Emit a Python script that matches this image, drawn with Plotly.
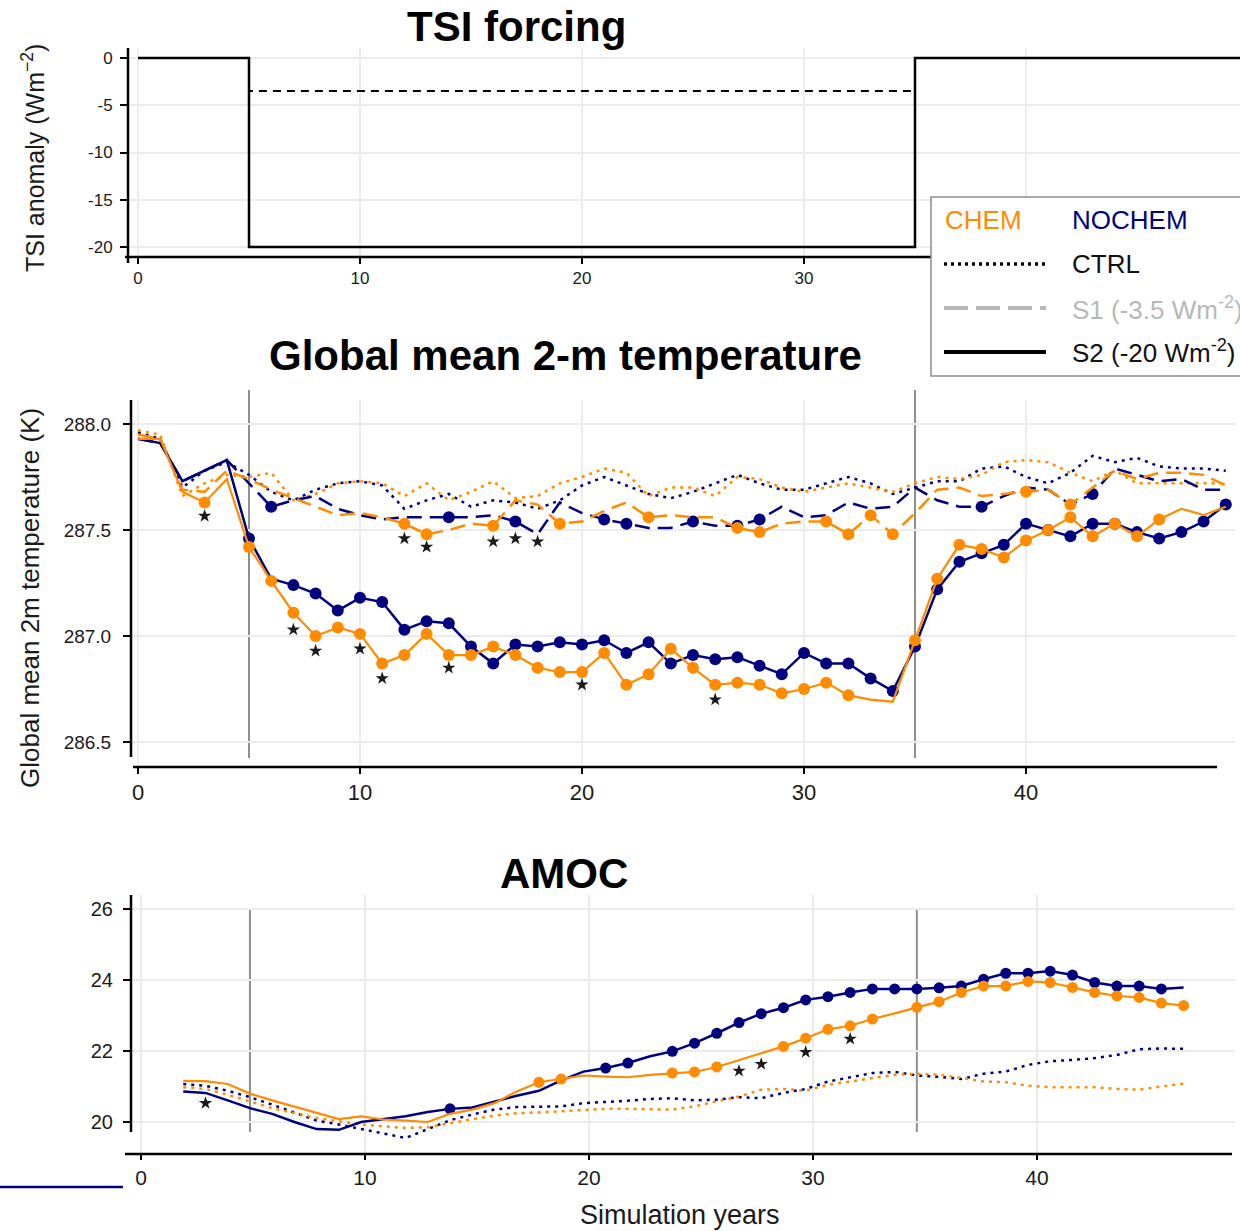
import plotly.graph_objects as go

# ---------------- DATA ----------------
# TSI forcing (W m-2)
tsi_x = [0, 5, 5, 35, 35, 50]
tsi_s1 = [0, 0, -3.5, -3.5, 0, 0]
tsi_s2 = [0, 0, -20, -20, 0, 0]

# Global mean 2 m temperature (K), simulation years 0..49
temp_years = [0, 1, 2, 3, 4, 5, 6, 7, 8, 9, 10, 11, 12, 13, 14, 15, 16, 17, 18, 19,
              20, 21, 22, 23, 24, 25, 26, 27, 28, 29, 30, 31, 32, 33, 34, 35, 36, 37, 38, 39,
              40, 41, 42, 43, 44, 45, 46, 47, 48, 49]
t_s2_nochem = [287.93, 287.91, 287.73, 287.78, 287.83, 287.46, 287.27, 287.24, 287.20, 287.12,
               287.18, 287.16, 287.03, 287.07, 287.06, 286.95, 286.87, 286.96, 286.95, 286.97,
               286.96, 286.98, 286.92, 286.97, 286.87, 286.91, 286.89, 286.90, 286.86, 286.82,
               286.92, 286.87, 286.87, 286.80, 286.74, 286.95, 287.22, 287.35, 287.39, 287.43,
               287.53, 287.50, 287.47, 287.53, 287.53, 287.49, 287.46, 287.49, 287.54, 287.62]
t_s2_chem = [287.93, 287.93, 287.68, 287.63, 287.74, 287.42, 287.26, 287.11, 287.00, 287.04,
             287.01, 286.87, 286.91, 287.01, 286.91, 286.91, 286.95, 286.91, 286.85, 286.83,
             286.83, 286.92, 286.77, 286.82, 286.94, 286.85, 286.77, 286.78, 286.77, 286.73,
             286.75, 286.78, 286.72, 286.70, 286.69, 286.98, 287.27, 287.43, 287.41, 287.37,
             287.45, 287.50, 287.56, 287.47, 287.53, 287.47, 287.55, 287.60, 287.57, 287.61]
t_s1_nochem = [287.93, 287.91, 287.73, 287.78, 287.83, 287.72, 287.61, 287.64, 287.66, 287.60,
               287.57, 287.55, 287.56, 287.56, 287.56, 287.56, 287.57, 287.54, 287.48, 287.63,
               287.58, 287.55, 287.53, 287.51, 287.51, 287.54, 287.52, 287.52, 287.55, 287.61,
               287.56, 287.57, 287.63, 287.60, 287.61, 287.70, 287.64, 287.61, 287.61, 287.66,
               287.70, 287.69, 287.62, 287.67, 287.79, 287.76, 287.73, 287.74, 287.69, 287.69]
t_s1_chem = [287.95, 287.93, 287.69, 287.68, 287.78, 287.74, 287.69, 287.65, 287.61, 287.57,
             287.58, 287.56, 287.53, 287.48, 287.50, 287.53, 287.52, 287.64, 287.62, 287.53,
             287.54, 287.59, 287.63, 287.56, 287.57, 287.56, 287.56, 287.51, 287.49, 287.53,
             287.54, 287.54, 287.48, 287.57, 287.48, 287.58, 287.69, 287.70, 287.66, 287.67,
             287.68, 287.69, 287.62, 287.70, 287.78, 287.74, 287.77, 287.77, 287.76, 287.71]
t_ctrl_nochem = [287.96, 287.93, 287.70, 287.78, 287.82, 287.76, 287.68, 287.64, 287.69, 287.72,
                 287.73, 287.71, 287.60, 287.64, 287.67, 287.61, 287.64, 287.63, 287.60, 287.64,
                 287.71, 287.75, 287.71, 287.67, 287.65, 287.68, 287.72, 287.76, 287.72, 287.69,
                 287.69, 287.72, 287.75, 287.72, 287.67, 287.70, 287.73, 287.73, 287.79, 287.80,
                 287.75, 287.72, 287.77, 287.85, 287.82, 287.84, 287.80, 287.79, 287.79, 287.78]
t_ctrl_chem = [287.97, 287.95, 287.66, 287.72, 287.76, 287.75, 287.77, 287.64, 287.67, 287.72,
               287.73, 287.72, 287.66, 287.72, 287.64, 287.68, 287.73, 287.65, 287.66, 287.72,
               287.75, 287.79, 287.77, 287.66, 287.70, 287.70, 287.66, 287.75, 287.74, 287.70,
               287.68, 287.70, 287.72, 287.70, 287.68, 287.72, 287.75, 287.74, 287.76, 287.82,
               287.83, 287.82, 287.77, 287.73, 287.78, 287.72, 287.72, 287.72, 287.72, 287.72]
# years with significant difference to CTRL (filled circles)
t_s2_nochem_sig = [5, 7, 8, 9, 10, 11, 12, 13, 14, 15, 16, 17, 18, 19, 20, 21, 22, 23, 24, 25, 26,
                   27, 28, 29, 30, 31, 32, 33, 34, 35, 36, 37, 38, 39, 40, 41, 42, 43, 44, 45,
                   46, 47, 48, 49]
t_s2_chem_sig = [3, 5, 6, 7, 8, 9, 10, 11, 12, 13, 14, 15, 16, 17, 18, 19, 20, 21, 22, 23, 24,
                 25, 26, 27, 28, 29, 30, 31, 32, 35, 36, 37, 38, 39, 40, 41, 42, 43, 44, 45, 46]
t_s1_nochem_sig = [6, 14, 17, 21, 22, 25, 27, 28, 38, 43]
t_s1_chem_sig = [12, 13, 16, 19, 23, 27, 28, 31, 32, 33, 34, 40, 42]
# CHEM vs NOCHEM significance stars
t_star_years = [3, 7, 8, 10, 11, 14, 20, 26, 12, 13, 16, 17, 18]
t_star_vals = [287.566, 287.03, 286.93, 286.94, 286.80, 286.85, 286.77, 286.70,
               287.46, 287.42, 287.445, 287.46, 287.445]

# AMOC (Sv), running mean, years 2..47
amoc_years = [2, 3, 4, 5, 6, 7, 8, 9, 10, 11, 12, 13, 14, 15, 16, 17, 18, 19, 20, 21, 22, 23,
              24, 25, 26, 27, 28, 29, 30, 31, 32, 33, 34, 35, 36, 37, 38, 39, 40, 41, 42, 43,
              44, 45, 46, 47]
amoc_s2_nochem = [20.86, 20.82, 20.61, 20.39, 20.23, 20.00, 19.80, 19.78, 20.00, 20.07, 20.16,
                  20.28, 20.37, 20.41, 20.58, 20.74, 20.88, 21.17, 21.42, 21.52, 21.66, 21.85,
                  21.99, 22.22, 22.50, 22.80, 23.05, 23.22, 23.44, 23.53, 23.65, 23.75, 23.75,
                  23.75, 23.78, 23.83, 24.02, 24.19, 24.19, 24.25, 24.14, 23.93, 23.83, 23.83,
                  23.75, 23.79]
amoc_s2_chem = [21.16, 21.15, 21.07, 20.80, 20.61, 20.44, 20.27, 20.08, 20.16, 20.07, 20.04,
                20.00, 20.23, 20.35, 20.53, 20.86, 21.12, 21.21, 21.31, 21.28, 21.26, 21.33,
                21.38, 21.41, 21.55, 21.75, 21.94, 22.13, 22.36, 22.61, 22.71, 22.90, 23.06,
                23.23, 23.39, 23.65, 23.83, 23.83, 23.96, 23.93, 23.79, 23.65, 23.55, 23.51,
                23.35, 23.28]
amoc_ctrl_nochem = [21.07, 21.02, 20.88, 20.70, 20.49, 20.27, 20.04, 19.93, 19.80, 19.66, 19.55,
                    19.80, 20.05, 20.21, 20.35, 20.42, 20.42, 20.44, 20.53, 20.56, 20.60, 20.65,
                    20.67, 20.61, 20.63, 20.70, 20.67, 20.82, 20.93, 21.14, 21.27, 21.38, 21.41,
                    21.31, 21.27, 21.21, 21.36, 21.42, 21.61, 21.71, 21.75, 21.80, 21.89, 22.05,
                    22.07, 22.06]
amoc_ctrl_chem = [20.98, 20.93, 20.77, 20.58, 20.39, 20.25, 20.11, 20.02, 19.93, 19.88, 19.83,
                  19.85, 19.97, 20.08, 20.18, 20.25, 20.27, 20.30, 20.35, 20.37, 20.37, 20.35,
                  20.35, 20.44, 20.58, 20.72, 20.91, 20.93, 20.88, 21.05, 21.14, 21.24, 21.33,
                  21.36, 21.33, 21.24, 21.14, 21.12, 21.02, 20.98, 20.98, 20.98, 20.93, 20.91,
                  21.00, 21.08]
amoc_s2_nochem_sig = [14, 21, 22, 24, 25, 26, 27, 28, 29, 30, 31, 32, 33, 34, 35, 36, 37, 38, 39,
                      40, 41, 42, 43, 44, 45, 46]
amoc_s2_chem_sig = [18, 19, 24, 25, 26, 29, 30, 31, 32, 33, 35, 36, 37, 38, 39, 40, 41, 42, 43,
                    44, 45, 46, 47]
amoc_star_years = [3, 27, 28, 30, 32]
amoc_star_vals = [20.53, 21.44, 21.63, 21.97, 22.34]

# tick labels
tsi_ticks = [0, -5, -10, -15, -20]
tsi_ticktext = ["0", "-5", "-10", "-15", "-20"]
temp_ticks = [288.0, 287.5, 287.0, 286.5]
temp_ticktext = ["288.0", "287.5", "287.0", "286.5"]
amoc_ticks = [26, 24, 22, 20]
amoc_ticktext = ["26", "24", "22", "20"]
year_ticks = [0, 10, 20, 30, 40]
year_ticktext = ["0", "10", "20", "30", "40"]

# ---------------- STYLE ----------------
ORANGE = "#FF8C00"
NAVY = "#00007F"
FONT = "Liberation Sans, Arial, Helvetica, sans-serif"
W, H = 1240, 1231


def px(x):
    return x / W


def py(y):
    return 1 - y / H


def sub(xs, ys, keep):
    d = dict(zip(xs, ys))
    return [k for k in keep], [d[k] for k in keep]


fig = go.Figure()

# --- top panel: TSI ---
fig.add_trace(go.Scatter(x=tsi_x, y=tsi_s1, mode="lines", xaxis="x", yaxis="y",
                         line=dict(color="black", width=2, dash="8px,6px")))
fig.add_trace(go.Scatter(x=tsi_x, y=tsi_s2, mode="lines", xaxis="x", yaxis="y",
                         line=dict(color="black", width=2.5)))

# --- middle panel: temperature ---
DOT = "3px,5px"
DASH = "15px,8px"
for ys, col in [(t_ctrl_nochem, NAVY), (t_ctrl_chem, ORANGE)]:
    fig.add_trace(go.Scatter(x=temp_years, y=ys, mode="lines", xaxis="x2", yaxis="y2",
                             line=dict(color=col, width=2.5, dash=DOT)))
for ys, sig, col in [(t_s1_nochem, t_s1_nochem_sig, NAVY), (t_s1_chem, t_s1_chem_sig, ORANGE)]:
    fig.add_trace(go.Scatter(x=temp_years, y=ys, mode="lines", xaxis="x2", yaxis="y2",
                             line=dict(color=col, width=2.5, dash=DASH)))
    mx, my = sub(temp_years, ys, sig)
    fig.add_trace(go.Scatter(x=mx, y=my, mode="markers", xaxis="x2", yaxis="y2",
                             marker=dict(color=col, size=12)))
for ys, sig, col, w in [(t_s2_nochem, t_s2_nochem_sig, NAVY, 2.5), (t_s2_chem, t_s2_chem_sig, ORANGE, 2.2)]:
    fig.add_trace(go.Scatter(x=temp_years, y=ys, mode="lines", xaxis="x2", yaxis="y2",
                             line=dict(color=col, width=w)))
    mx, my = sub(temp_years, ys, sig)
    fig.add_trace(go.Scatter(x=mx, y=my, mode="markers", xaxis="x2", yaxis="y2",
                             marker=dict(color=col, size=12)))
fig.add_trace(go.Scatter(x=t_star_years, y=t_star_vals, mode="markers", xaxis="x2", yaxis="y2",
                         marker=dict(symbol="star", color="#1a1a1a", size=10)))

# --- bottom panel: AMOC (data on x3; x4 carries the printed year ticks) ---
for ys, col in [(amoc_ctrl_nochem, NAVY), (amoc_ctrl_chem, ORANGE)]:
    fig.add_trace(go.Scatter(x=amoc_years, y=ys, mode="lines", xaxis="x3", yaxis="y3",
                             line=dict(color=col, width=2.5, dash=DOT)))
for ys, sig, col, w in [(amoc_s2_nochem, amoc_s2_nochem_sig, NAVY, 2.5),
                        (amoc_s2_chem, amoc_s2_chem_sig, ORANGE, 2.2)]:
    fig.add_trace(go.Scatter(x=amoc_years, y=ys, mode="lines", xaxis="x3", yaxis="y3",
                             line=dict(color=col, width=w)))
    mx, my = sub(amoc_years, ys, sig)
    fig.add_trace(go.Scatter(x=mx, y=my, mode="markers", xaxis="x3", yaxis="y3",
                             marker=dict(color=col, size=11)))
fig.add_trace(go.Scatter(x=amoc_star_years, y=amoc_star_vals, mode="markers", xaxis="x3", yaxis="y3",
                         marker=dict(symbol="star", color="#1a1a1a", size=10)))
# empty trace so the tick axis x4 is rendered
fig.add_trace(go.Scatter(x=[], y=[], mode="lines", xaxis="x4", yaxis="y3"))

fig.update_traces(showlegend=False, hoverinfo="skip")

GRID = "#ececec"
tick_common = dict(ticks="outside", tickwidth=2, tickcolor="black",
                   showgrid=True, gridcolor=GRID, gridwidth=1.5, zeroline=False,
                   showline=False, tickmode="array")

BOT_DOM = [px(131), px(1235)]
fig.update_layout(
    width=W, height=H, margin=dict(l=0, r=0, t=0, b=0),
    paper_bgcolor="white", plot_bgcolor="white",
    font=dict(family=FONT, color="#1a1a1a"),
    xaxis=dict(domain=[px(128), 1], range=[(128 - 138) / 22.2, (1240 - 138) / 22.2], anchor="y",
               tickvals=year_ticks, ticktext=year_ticktext, tickfont=dict(size=17),
               ticklen=6, ticklabelstandoff=0, **tick_common),
    yaxis=dict(domain=[py(257), py(48)], range=[-20 - 10 / 9.45, 10 / 9.45], anchor="x",
               tickvals=tsi_ticks, ticktext=tsi_ticktext, tickfont=dict(size=17),
               ticklen=7, ticklabelstandoff=4, **tick_common),
    xaxis2=dict(domain=[px(131), px(1235)], range=[(131 - 138) / 22.2, (1235 - 138) / 22.2], anchor="y2",
                tickvals=year_ticks, ticktext=year_ticktext, tickfont=dict(size=22),
                ticklen=6, ticklabelstandoff=0, **tick_common),
    yaxis2=dict(domain=[py(767), py(400)], range=[288 - 343 / 212, 288 + 24 / 212], anchor="x2",
                tickvals=temp_ticks, ticktext=temp_ticktext, tickfont=dict(size=19),
                ticklen=7, ticklabelstandoff=8, **tick_common),
    xaxis3=dict(domain=BOT_DOM, range=[(131 - 138.8) / 22.23, (1235 - 138.8) / 22.23], anchor="y3",
                showticklabels=False, ticks="", showgrid=False, zeroline=False, showline=False),
    xaxis4=dict(domain=BOT_DOM, overlaying="x3", anchor="y3",
                range=[(131 - 141) / 22.4, (1235 - 141) / 22.4],
                tickvals=year_ticks, ticktext=year_ticktext, tickfont=dict(size=21),
                ticklen=5, ticklabelstandoff=0, **tick_common),
    yaxis3=dict(domain=[py(1154), py(895)], range=[20 - 32 / 35.5, 26 + 14 / 35.5], anchor="x3",
                tickvals=amoc_ticks, ticktext=amoc_ticktext, tickfont=dict(size=20),
                ticklen=7, ticklabelstandoff=6, **tick_common),
)

shapes = []
AX = dict(color="black", width=2.5)
# axis lines
for x0, y0, x1, y1 in [(128, 48, 128, 263), (125, 257, 1240, 257),
                       (131, 400, 131, 757), (133, 767, 1217, 767),
                       (131, 895, 131, 1132), (125, 1154, 1232, 1154)]:
    shapes.append(dict(type="line", xref="paper", yref="paper", x0=px(x0), x1=px(x1),
                       y0=py(y0), y1=py(y1), line=AX, layer="above"))
# forcing start / end markers
for yr in [5, 35]:
    shapes.append(dict(type="line", xref="x2", yref="paper", x0=yr, x1=yr, y0=py(390), y1=py(758),
                       line=dict(color="#8f8f8f", width=2), layer="between"))
    shapes.append(dict(type="line", xref="x3", yref="paper", x0=yr, x1=yr, y0=py(910), y1=py(1132),
                       line=dict(color="#8f8f8f", width=2), layer="between"))
# stray line fragment bottom-left
shapes.append(dict(type="line", xref="paper", yref="paper", x0=0, x1=px(123), y0=py(1187), y1=py(1187),
                   line=dict(color=NAVY, width=2.5)))
# legend box
shapes.append(dict(type="rect", xref="paper", yref="paper", x0=px(931), x1=px(1260), y0=py(376), y1=py(197),
                   line=dict(color="#8c8c8c", width=1.5), fillcolor="white", layer="above"))
for yy, col, dash, w in [(264, "black", "3px,4px", 3.5), (308, "#b8b8b8", "24px,8px", 4), (352, "black", "solid", 4)]:
    shapes.append(dict(type="line", xref="paper", yref="paper", x0=px(944), x1=px(1046), y0=py(yy), y1=py(yy),
                       line=dict(color=col, width=w, dash=dash), layer="above"))
fig.update_layout(shapes=shapes)

ann = []


def text(x, y, s, size, color="#1a1a1a", xanchor="center", angle=0):
    ann.append(dict(xref="paper", yref="paper", x=px(x), y=py(y), text=s, showarrow=False,
                    xanchor=xanchor, yanchor="middle", textangle=angle,
                    font=dict(size=size, color=color, family=FONT)))


text(516, 27, "<b>TSI forcing</b>", 42, "black")
text(565, 355, "<b>Global mean 2-m temperature</b>", 42, "black")
text(564, 873, "<b>AMOC</b>", 42, "black")
text(33, 158, "TSI anomaly (Wm<sup>−2</sup>)", 25, angle=-90)
text(30, 598, "Global mean 2m temperature (K)", 26, angle=-90)
text(680, 1215, "Simulation years", 27)
text(943, 220, "CHEM", 26, ORANGE, "left")
text(1070, 220, "NOCHEM", 26, NAVY, "left")
text(1070, 264, "CTRL", 26, "#111111", "left")
text(1070, 308, "S1 (-3.5 Wm<sup>-2</sup>)", 26, "#b8b8b8", "left")
text(1070, 352, "S2 (-20 Wm<sup>-2</sup>)", 26, "#111111", "left")
fig.update_layout(annotations=ann)

fig.write_html("out.html")
